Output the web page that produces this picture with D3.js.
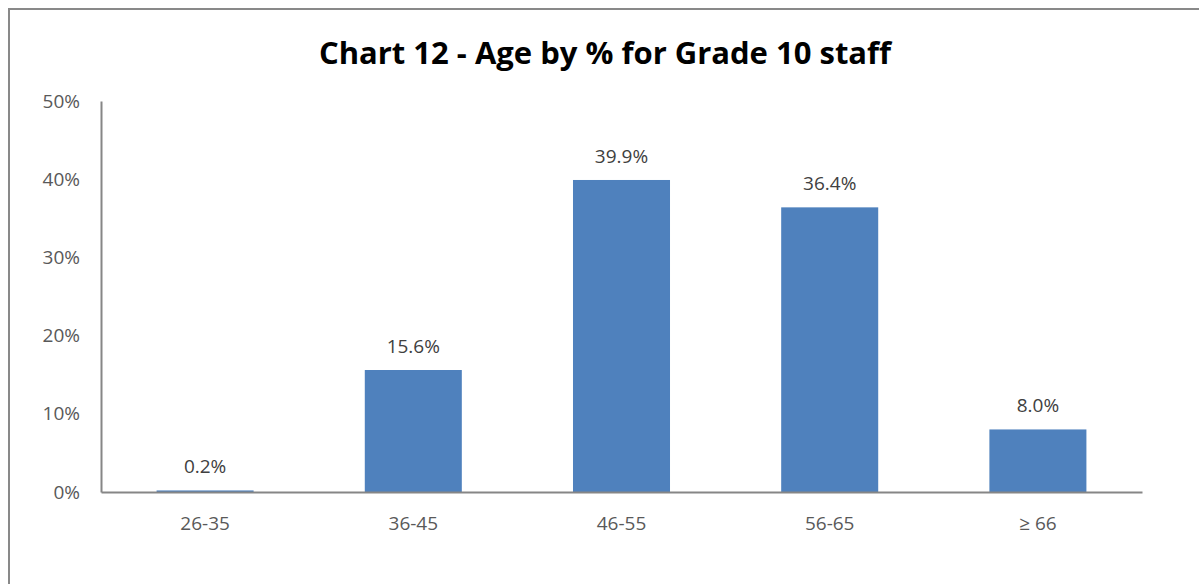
<!DOCTYPE html>
<html><head><meta charset="utf-8">
<script src="https://cdn.jsdelivr.net/npm/d3@7"></script>
<style>
html,body{margin:0;padding:0;background:#fff;}
svg{display:block;}
</style></head>
<body>
<svg id="chart" width="1199" height="584"></svg>
<script>
const categories = ["26-35", "36-45", "46-55", "56-65", "\u2265 66"];
const values = [0.2, 15.6, 39.9, 36.4, 8.0];
const yTicks = [0, 10, 20, 30, 40, 50];
const title = "Chart 12 - Age by % for Grade 10 staff";

const svg = d3.select("#chart");
const W = 1199, H = 584;
const m = {left: 101, right: 57, top: 101, bottom: 92};
const font = "'Open Sans', 'Liberation Sans', sans-serif";

// outer border (only left & top visible)
svg.append("rect").attr("x", 9).attr("y", 9).attr("width", 1220).attr("height", 620)
  .attr("fill", "none").attr("stroke", "#898989").attr("stroke-width", 2);

const x = d3.scaleBand().domain(categories).range([m.left, W - m.right]).paddingInner(0.534).paddingOuter(0.267);
const y = d3.scaleLinear().domain([0, 50]).range([H - m.bottom, m.top]);

svg.append("text").attr("x", 605).attr("y", 64).attr("text-anchor", "middle")
  .attr("font-family", font).attr("font-weight", "bold").attr("font-size", 31)
  .attr("fill", "#000").text(title);

// y tick labels
const yAxis = d3.axisLeft(y).tickValues(yTicks).tickSize(0).tickPadding(21).tickFormat(d => d + "%");
const gy = svg.append("g").attr("transform", `translate(${m.left},0)`).call(yAxis);
gy.select(".domain").attr("stroke", "#868686").attr("stroke-width", 2);
gy.selectAll("text").attr("font-family", font).attr("font-size", 19).attr("fill", "#595959");

// bars
svg.append("g").selectAll("rect").data(values).join("rect")
  .attr("x", (d, i) => x(categories[i]))
  .attr("width", x.bandwidth())
  .attr("y", d => y(d))
  .attr("height", d => y(0) - y(d))
  .attr("fill", "#4f81bd");

// data labels
svg.append("g").selectAll("text").data(values).join("text")
  .attr("x", (d, i) => x(categories[i]) + x.bandwidth() / 2)
  .attr("y", d => y(d) - 17)
  .attr("text-anchor", "middle")
  .attr("font-family", font).attr("font-size", 19).attr("fill", "#404040")
  .text(d => d.toFixed(1) + "%");

// x axis
const xAxis = d3.axisBottom(x).tickSize(0).tickPadding(25).tickSizeOuter(0);
const gx = svg.append("g").attr("transform", `translate(0,${H - m.bottom})`).call(xAxis);
gx.select(".domain").attr("stroke", "#868686").attr("stroke-width", 2);
gx.selectAll("text").attr("font-family", font).attr("font-size", 19).attr("fill", "#595959");
</script>
</body></html>
